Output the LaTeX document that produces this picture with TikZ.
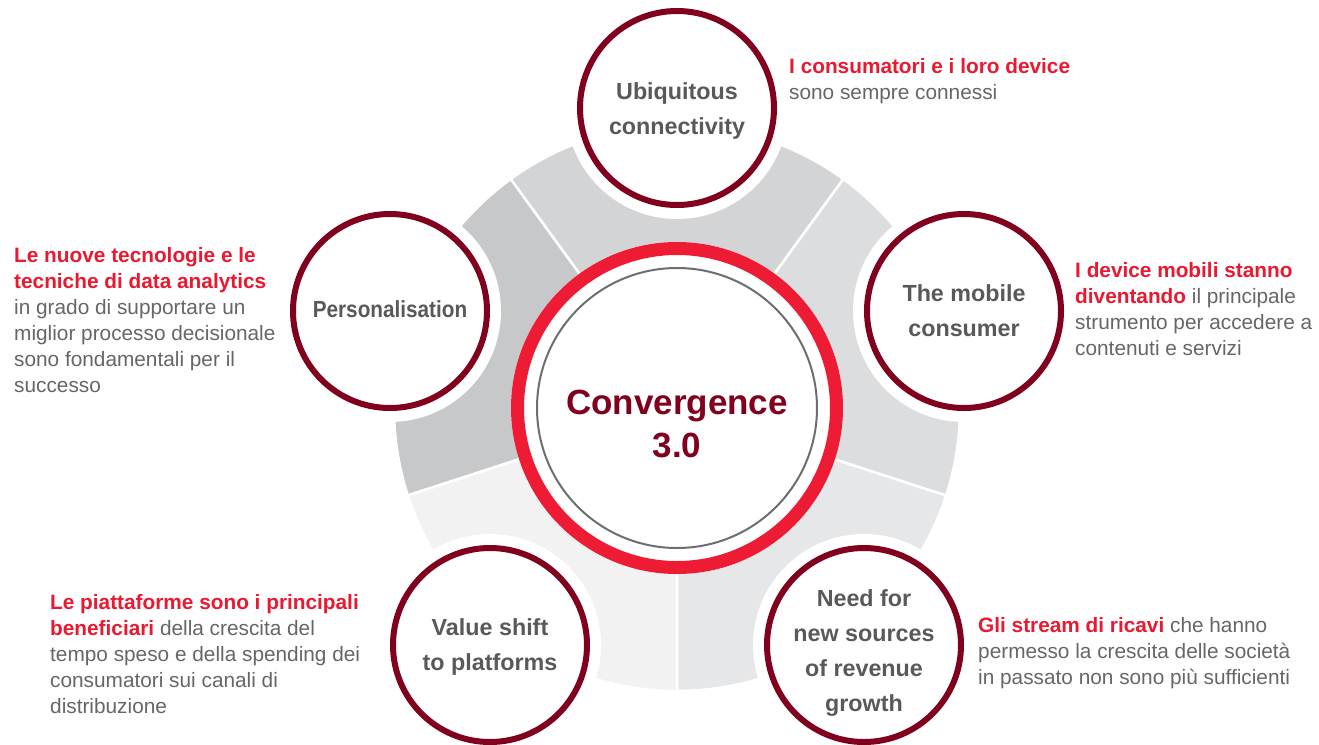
\documentclass[tikz,border=0pt]{standalone}
\usepackage{fontspec}
\setmainfont{Liberation Sans}
\definecolor{dred}{RGB}{128,0,30}
\definecolor{bred}{RGB}{237,27,52}
\definecolor{tred}{RGB}{232,25,48}
\definecolor{lgray}{RGB}{89,89,92}
\definecolor{agray}{RGB}{102,102,104}
\definecolor{ringgray}{RGB}{109,110,113}
\definecolor{secTop}{RGB}{211,212,214}
\definecolor{secUL}{RGB}{199,200,202}
\definecolor{secLL}{RGB}{242,242,242}
\definecolor{secLR}{RGB}{230,231,232}
\definecolor{secUR}{RGB}{220,221,223}
\newcommand{\hlt}[1]{{\color{tred}\bfseries #1}}
\tikzset{
  smallcirc/.style={circle, draw=dred, line width=6pt, fill=white, minimum size=194pt, inner sep=0pt},
  halo/.style={circle, fill=white, minimum size=222pt, inner sep=0pt},
  lbl/.style={text=lgray, font=\fontsize{23.3}{35}\selectfont\bfseries, align=center, inner sep=0pt},
  note/.style={text=agray, font=\fontsize{20.8}{26}\selectfont, align=left, anchor=north west, inner sep=0pt},
  sector/.style={draw=white, line width=2.5pt}
}
\begin{document}
\begin{tikzpicture}[x=1pt,y=-1pt]
\useasboundingbox (0,0) rectangle (1319,744);
\fill[white] (0,0) rectangle (1319,744);
\coordinate (C) at (677,408);
% ring sectors
\fill[secTop, sector] (C) -- ++(-54:283) arc[start angle=-54, end angle=-126, radius=283] -- cycle;
\fill[secUL, sector] (C) -- ++(-126:283) arc[start angle=-126, end angle=-198, radius=283] -- cycle;
\fill[secLL, sector] (C) -- ++(-198:283) arc[start angle=-198, end angle=-270, radius=283] -- cycle;
\fill[secLR, sector] (C) -- ++(-270:283) arc[start angle=-270, end angle=-342, radius=283] -- cycle;
\fill[secUR, sector] (C) -- ++(-342:283) arc[start angle=-342, end angle=-414, radius=283] -- cycle;
% halos
\node[halo] (hu) at (677,108) {};
\node[halo] (hp) at (390,311) {};
\node[halo] (hm) at (964,311) {};
\node[halo] (hv) at (490,645) {};
\node[halo] (hn) at (864,645) {};
% centre
\node[circle, fill=white, minimum size=332pt, inner sep=0pt] (cw) at (C) {};
\draw[bred, line width=13pt] (C) circle[radius=159.5];
\draw[ringgray, line width=2pt] (C) circle[radius=140];
\node[text=dred, font=\fontsize{35}{43}\selectfont\bfseries, align=center, inner sep=0pt] (conv) at (677,424) {Convergence\\3.0};
% small circles
\node[smallcirc] (u) at (677,108) {};
\node[smallcirc] (p) at (390,311) {};
\node[smallcirc] (m) at (964,311) {};
\node[smallcirc] (v) at (490,645) {};
\node[smallcirc] (n) at (864,645) {};
\node[lbl] (ut) at (677,110.7) {Ubiquitous\\connectivity};
\node[lbl] (pt) at (390,308.8) {\scalebox{0.89}[1]{Personalisation}};
\node[lbl] (mt) at (964,310.7) {The mobile\\consumer};
\node[lbl] (vt) at (490,646.5) {Value shift\\to platforms};
\node[lbl] (nt) at (864,653.5) {Need for\\new sources\\of revenue\\growth};
% notes
\node[note] (a1) at (789,58) {\hlt{I consumatori e i loro device}\\sono sempre connessi};
\node[note] (a2) at (14,247) {\hlt{Le nuove tecnologie e le}\\\hlt{tecniche di data analytics}\\in grado di supportare un\\miglior processo decisionale\\sono fondamentali per il\\successo};
\node[note] (a3) at (1075,262) {\hlt{I device mobili stanno}\\\hlt{diventando} il principale\\strumento per accedere a\\contenuti e servizi};
\node[note] (a4) at (50,594.6) {\hlt{Le piattaforme sono i principali}\\\hlt{beneficiari} della crescita del\\tempo speso e della spending dei\\consumatori sui canali di\\distribuzione};
\node[note] (a5) at (978,617) {\hlt{Gli stream di ricavi} che hanno\\permesso la crescita delle società\\in passato non sono più sufficienti};
\end{tikzpicture}
\end{document}
